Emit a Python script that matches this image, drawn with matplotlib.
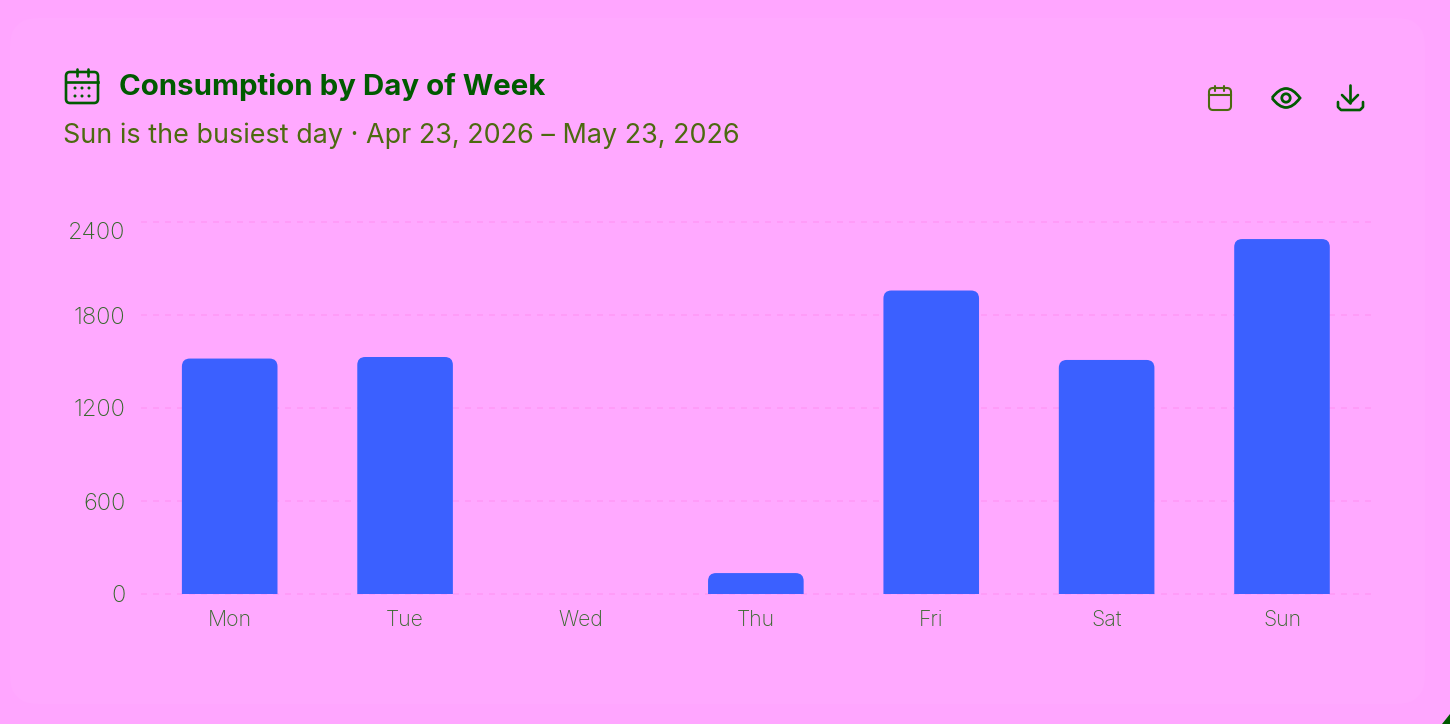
import matplotlib
matplotlib.use('Agg')
import matplotlib.pyplot as plt
from matplotlib.patches import FancyBboxPatch, Circle, PathPatch
from matplotlib.path import Path

days = ['Mon', 'Tue', 'Wed', 'Thu', 'Fri', 'Sat', 'Sun']
consumption = [1519, 1529, 0, 135, 1958, 1510, 2290]
y_ticks = [0, 600, 1200, 1800, 2400]
title = 'Consumption by Day of Week'
subtitle = 'Sun is the busiest day · Apr 23, 2026 – May 23, 2026'

W, H = 1450, 724
BG = '#ffa6ff'
CARD = '#ffa9ff'
GRID = '#ff9cf8'
BLUE = '#3b60ff'
DARK = '#005a00'
SUB = '#4c6a10'
TICK = '#35682a'

plt.rcParams['font.family'] = ['Inter', 'DejaVu Sans']

fig = plt.figure(figsize=(W / 100, H / 100), dpi=100, facecolor=BG)

# pixel overlay for card, header and icons
bg = fig.add_axes([0, 0, 1, 1])
bg.set_xlim(0, W)
bg.set_ylim(H, 0)
bg.axis('off')
bg.add_patch(FancyBboxPatch((10, 18), 1415, 686, boxstyle='round,pad=0,rounding_size=28',
                            fc=CARD, ec='none'))
bg.add_patch(PathPatch(Path([(1450, 714), (1450, 724), (1442, 724), (1450, 714)]),
                       fc=DARK, ec='none'))


def calendar(x, y, w, h, div_y, pegs, peg_top, peg_bot, color, lw):
    bg.add_patch(FancyBboxPatch((x, y), w, h, boxstyle='round,pad=0,rounding_size=4',
                                fc='none', ec=color, lw=lw))
    bg.plot([x, x + w], [div_y, div_y], color=color, lw=lw)
    for px in pegs:
        bg.plot([px, px], [peg_top, peg_bot], color=color, lw=lw, solid_capstyle='round')


calendar(66, 72, 32, 31, 82, (77, 88), 68.5, 76, DARK, 1.9)
for row in (88, 96):
    for col in (75, 82, 89):
        bg.add_patch(Circle((col, row), 1.5, fc=DARK, ec='none'))
calendar(1209, 88, 22, 22, 95, (1215, 1224), 85.5, 91, SUB, 1.5)

# eye icon
eye_x = [1272, 1279, 1286, 1293, 1300, 1293, 1286, 1279, 1272]
eye_y = [98, 88.5, 88.5, 88.5, 98, 107.5, 107.5, 107.5, 98]
codes = [Path.MOVETO, Path.CURVE3, Path.CURVE3, Path.CURVE3, Path.CURVE3,
         Path.CURVE3, Path.CURVE3, Path.CURVE3, Path.CURVE3]
bg.add_patch(PathPatch(Path(list(zip(eye_x, eye_y)), codes), fc='none', ec=DARK, lw=2.0))
bg.add_patch(Circle((1286, 98), 4.2, fc='none', ec=DARK, lw=2.0))

# download icon
bg.plot([1350, 1350], [85, 103], color=DARK, lw=1.9, solid_capstyle='round')
bg.plot([1342, 1350, 1358], [95, 103, 95], color=DARK, lw=1.9, solid_capstyle='round',
        solid_joinstyle='round')
bg.plot([1338, 1338, 1341, 1360, 1363, 1363], [102, 107, 110, 110, 107, 102], color=DARK, lw=1.9,
        solid_capstyle='round', solid_joinstyle='round')

bg.text(119, 87, title, fontsize=21.2, fontweight='bold', color=DARK, va='center', ha='left')
bg.text(63, 136, subtitle, fontsize=19.4, color=SUB, va='center', ha='left')

# chart area, 0 to 2400 spans y 594..222 and seven slots span x 142..1369.7
left, slots_w = 142, 1227.7
ax = fig.add_axes([left / W, 1 - 594 / H, slots_w / W, 372 / H])
ax.patch.set_alpha(0)
ax.set_xlim(-0.5, 6.5)
ax.set_ylim(0, 2400)
for s in ax.spines.values():
    s.set_visible(False)

for t in y_ticks:
    ax.axhline(t, xmin=-0.001, xmax=1.001, color=GRID, lw=1.44, dashes=(3, 3), clip_on=False,
               zorder=1)

bar_w = 95.6 * 7 / slots_w
rx = 8 * 7 / slots_w
ry = 8 * 2400 / 372
for i, v in enumerate(consumption):
    if v == 0:
        continue
    x0, x1 = i - bar_w / 2, i + bar_w / 2
    verts = [(x0, 0), (x0, v - ry), (x0, v), (x0 + rx, v), (x1 - rx, v), (x1, v), (x1, v - ry),
             (x1, 0), (x0, 0)]
    bar_codes = [Path.MOVETO, Path.LINETO, Path.CURVE3, Path.CURVE3, Path.LINETO, Path.CURVE3,
                 Path.CURVE3, Path.LINETO, Path.CLOSEPOLY]
    ax.add_patch(PathPatch(Path(verts, bar_codes), fc=BLUE, ec='none', zorder=2))

ax.set_xticks(range(len(days)))
ax.set_xticklabels(days, fontsize=15.3, color=TICK, fontweight='light', va='baseline')
ax.set_yticks(y_ticks)
ax.set_yticklabels([str(t) for t in y_ticks], fontsize=17, color=TICK, fontweight='light')
ax.tick_params(axis='both', length=0)
ax.tick_params(axis='x', pad=23)
ax.tick_params(axis='y', pad=12)
# top label hangs below its gridline so it stays inside the plot
ax.get_yticklabels()[-1].set_verticalalignment('top')

fig.savefig('out.png', dpi=100, facecolor=BG)
